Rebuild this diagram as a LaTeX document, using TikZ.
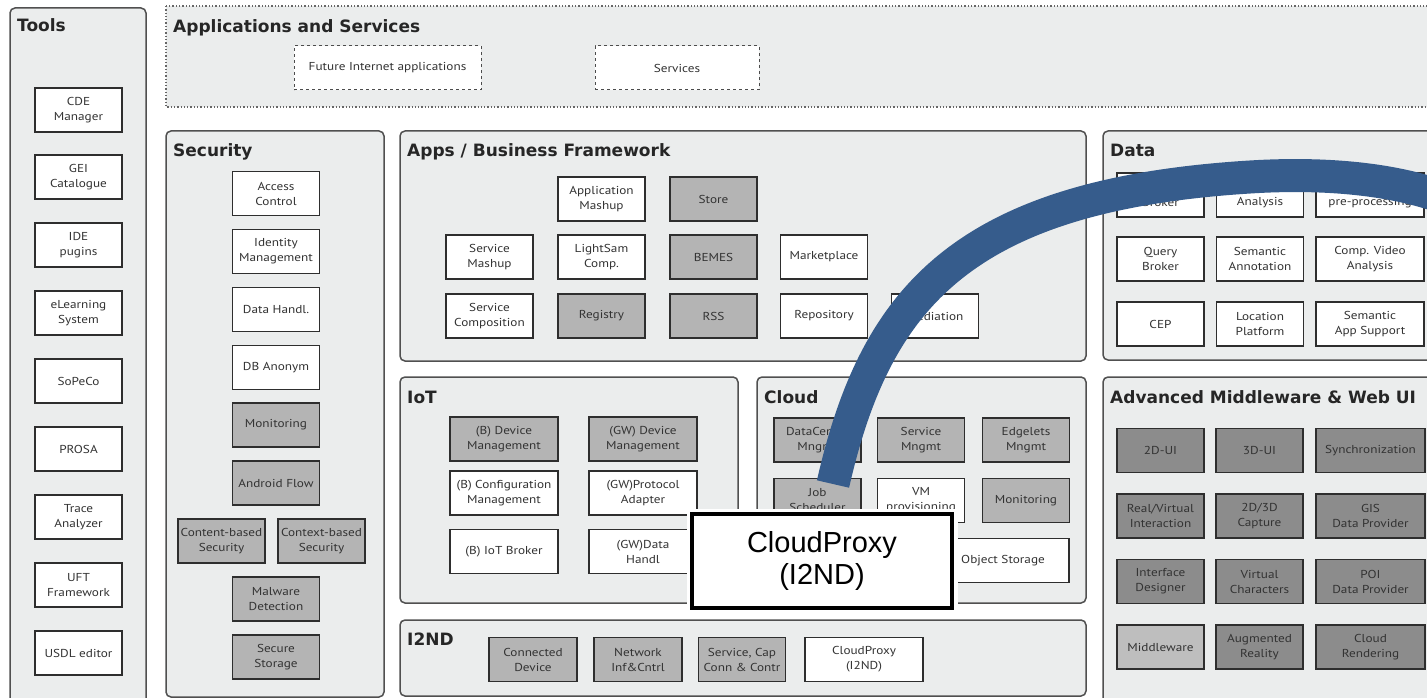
\documentclass[tikz,border=0pt]{standalone}
\usepackage{fontspec}
\setmainfont{DejaVu Sans}
\newfontfamily\boxfont[FakeStretch=1.15]{PT Sans}
\newfontfamily\proxyfont{Liberation Sans}
\definecolor{panelfill}{HTML}{EBEDED}
\definecolor{panelline}{HTML}{505050}
\definecolor{boxline}{HTML}{2E2E2E}
\definecolor{boxtext}{HTML}{333333}
\definecolor{midgrey}{HTML}{B4B4B4}
\definecolor{darkgrey}{HTML}{8C8C8C}
\definecolor{lightgrey}{HTML}{BEBEBE}
\definecolor{arcblue}{HTML}{365C8C}

\begin{document}
\begin{tikzpicture}[
    x=1pt, y=-1pt,
    panel/.style={draw=panelline, fill=panelfill, line width=1.5pt, rounded corners=5pt},
    heading/.style={anchor=base west, inner sep=0, text=black!85,
      font=\bfseries\fontsize{17}{20}\selectfont},
    gebox/.style={rectangle, draw=boxline, line width=1.7pt, minimum width=87pt,
      minimum height=44pt, inner sep=1pt, align=center, text=boxtext,
      font=\boxfont\fontsize{11.5}{15}\selectfont},
    plain/.style={gebox, fill=white},
    shaded/.style={gebox, fill=midgrey},
    darkbox/.style={gebox, fill=darkgrey, text=black!80},
    dashbox/.style={gebox, fill=white, dashed, line width=1pt, draw=black!70,
      font=\boxfont\fontsize{11.5}{13}\selectfont},
    bigarc/.style={draw=arcblue, line width=33pt},
    proxybox/.style={rectangle, draw=black, fill=white, line width=4pt,
      minimum width=260pt, minimum height=94pt, align=center,
      font=\proxyfont\fontsize{29}{32}\selectfont,
      preaction={draw=white, line width=11pt}}
  ]
  \useasboundingbox (0,0) rectangle (1427,698);
  \clip (0,0) rectangle (1427,698);
  \fill[white] (0,0) rectangle (1427,698);

  % panels
  \draw[panel] (10,8) rectangle (146,720);
  \node[heading] at (17,32) {Tools};
  \draw[dotted, line width=1.3pt, draw=black!60, fill=panelfill] (166,6) rectangle (1440,107);
  \node[heading] at (173,33) {Applications and Services};
  \draw[panel] (166,131) rectangle (384,697);
  \node[heading] at (173,157) {Security};
  \draw[panel] (400,131) rectangle (1086,361);
  \node[heading] at (407,157) {Apps / Business Framework};
  \draw[panel] (1103,131) rectangle (1440,360);
  \node[heading] at (1110,157) {Data};
  \draw[panel] (400,377) rectangle (738,603);
  \node[heading] at (407,403) {IoT};
  \draw[panel] (757,377) rectangle (1086,603);
  \node[heading] at (764,403) {Cloud};
  \draw[panel] (400,620) rectangle (1086,696);
  \node[heading] at (407,645) {I2ND};
  \draw[panel] (1103,377) rectangle (1440,720);
  \node[heading] at (1110,403) {Advanced Middleware \& Web UI};

  % tools
  \node[plain] (cde) at (78.5,110) {CDE\\Manager};
  \node[plain] (gei) at (78.5,177) {GEI\\Catalogue};
  \node[plain] (ide) at (78.5,245) {IDE\\pugins};
  \node[plain] (elearn) at (78.5,313) {eLearning\\System};
  \node[plain] (sopeco) at (78.5,381) {SoPeCo};
  \node[plain] (prosa) at (78.5,449) {PROSA};
  \node[plain] (trace) at (78.5,517) {Trace\\Analyzer};
  \node[plain] (uft) at (78.5,585) {UFT\\Framework};
  \node[plain] (usdl) at (78.5,653) {USDL editor};

  % applications and services
  \node[dashbox, minimum width=187pt] (fiapps) at (387.5,68) {Future Internet applications};
  \node[dashbox, minimum width=164pt] (services) at (677,68) {Services};

  % security
  \node[plain] (access) at (276,193.5) {Access\\Control};
  \node[plain] (identity) at (276,251.5) {Identity\\Management};
  \node[plain] (datahandl) at (276,309.5) {Data Handl.};
  \node[plain] (dbanon) at (276,367.5) {DB Anonym};
  \node[shaded] (secmon) at (276,425) {Monitoring};
  \node[shaded] (android) at (276,483) {Android Flow};
  \node[shaded] (content) at (221.5,541) {Content-based\\Security};
  \node[shaded] (context) at (321.5,541) {Context-based\\Security};
  \node[shaded] (malware) at (276,599) {Malware\\Detection};
  \node[shaded] (securest) at (276,657) {Secure\\Storage};

  % apps / business framework
  \node[plain] (appmashup) at (601.5,199) {Application\\Mashup};
  \node[shaded] (store) at (713.5,199) {Store};
  \node[plain] (svcmashup) at (489.5,257) {Service\\Mashup};
  \node[plain] (lightsam) at (601.5,257) {LightSam\\Comp.};
  \node[shaded] (bemes) at (713.5,257) {BEMES};
  \node[plain] (market) at (824,257) {Marketplace};
  \node[plain] (svccomp) at (489.5,316) {Service\\Composition};
  \node[shaded] (registry) at (601.5,316) {Registry};
  \node[shaded] (rss) at (713.5,316) {RSS};
  \node[plain] (repo) at (824,316) {Repository};
  \node[plain] (mediation) at (935,316) {Mediation};

  % data
  \node[plain] (pubsub) at (1160.5,195) {Pub/Sub\\Broker};
  \node[plain] (bigdata) at (1260,195) {BigData\\Analysis};
  \node[plain, minimum width=108pt] (metadata) at (1370,195) {Metadata\\pre-processing};
  \node[plain] (query) at (1160.5,259) {Query\\Broker};
  \node[plain] (semann) at (1260,259) {Semantic\\Annotation};
  \node[plain, minimum width=108pt] (compvideo) at (1370,259) {Comp. Video\\Analysis};
  \node[plain] (cep) at (1160.5,324) {CEP};
  \node[plain] (location) at (1260,324) {Location\\Platform};
  \node[plain, minimum width=108pt] (semapp) at (1370,324) {Semantic\\App Support};

  % iot
  \node[shaded, minimum width=108pt] (bdevmgmt) at (504,439) {(B) Device\\Management};
  \node[shaded, minimum width=108pt] (gwdevmgmt) at (643,439) {(GW) Device\\Management};
  \node[plain, minimum width=108pt] (bconf) at (504,493) {(B) Configuration\\Management};
  \node[plain, minimum width=108pt] (gwproto) at (643,493) {(GW)Protocol\\Adapter};
  \node[plain, minimum width=108pt] (bbroker) at (504,551.5) {(B) IoT Broker};
  \node[plain, minimum width=108pt] (gwdata) at (643,551.5) {(GW)Data\\Handl};

  % cloud
  \node[shaded] (dcmgmt) at (817.5,440) {DataCenter\\Mngmt};
  \node[shaded] (svcmgmt) at (921,440) {Service\\Mngmt};
  \node[shaded] (edgelets) at (1026,440) {Edgelets\\Mngmt};
  \node[shaded] (jobsched) at (817.5,500.5) {Job\\Scheduler};
  \node[plain] (vmprov) at (921,500.5) {VM\\provisioning};
  \node[shaded] (cloudmon) at (1026,500.5) {Monitoring};
  \node[plain, minimum width=132pt] (objstore) at (1003,560.5) {Object Storage};

  % i2nd
  \node[shaded, minimum width=88pt] (conndev) at (533,659.5) {Connected\\Device};
  \node[shaded, minimum width=88pt] (netinf) at (638,659.5) {Network\\Inf\&Cntrl};
  \node[shaded] (svccap) at (742,659.5) {Service, Cap\\Conn \& Contr};
  \node[plain, minimum width=118pt] (cpsmall) at (864,659.5) {CloudProxy\\(I2ND)};

  % advanced middleware & web ui
  \node[darkbox] (ui2d) at (1160.5,450.5) {2D-UI};
  \node[darkbox] (ui3d) at (1259.5,450.5) {3D-UI};
  \node[darkbox, minimum width=109pt] (sync) at (1370.5,450.5) {Synchronization};
  \node[darkbox] (realvirt) at (1160.5,516) {Real/Virtual\\Interaction};
  \node[darkbox] (capture) at (1259.5,516) {2D/3D\\Capture};
  \node[darkbox, minimum width=109pt] (gis) at (1370.5,516) {GIS\\Data Provider};
  \node[darkbox] (ifdesign) at (1160.5,581.5) {Interface\\Designer};
  \node[darkbox] (virtchar) at (1259.5,581.5) {Virtual\\Characters};
  \node[darkbox, minimum width=109pt] (poi) at (1370.5,581.5) {POI\\Data Provider};
  \node[gebox, fill=lightgrey] (middleware) at (1160.5,647) {Middleware};
  \node[darkbox] (augreal) at (1259.5,647) {Augmented\\Reality};
  \node[darkbox, minimum width=109pt] (cloudrend) at (1370.5,647) {Cloud\\Rendering};

  % highlight
  \coordinate (arcstart) at (833,484);
  \coordinate (arcend) at (1450,200);
  \draw[bigarc] (arcstart) .. controls (875,300) and (960,195) .. (1250,177)
    .. controls (1330,172) and (1400,180) .. (arcend);
  \node[proxybox] (cloudproxy) at (822,561) {CloudProxy\\(I2ND)};
\end{tikzpicture}
\end{document}
